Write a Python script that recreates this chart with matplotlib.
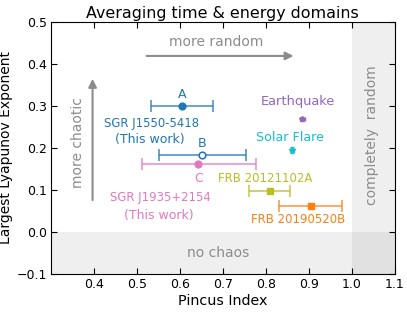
import matplotlib
matplotlib.use("Agg")
import matplotlib.pyplot as plt

plt.rcParams['font.family'] = ['DejaVu Sans']

# SGR J1550-5418 (A, B) and SGR J1935+2154 (C)
sgr_names = ['A', 'B', 'C']
sgr_x = [0.605, 0.651, 0.643]
sgr_y = [0.300, 0.183, 0.161]
sgr_xlo = [0.534, 0.551, 0.511]
sgr_xhi = [0.677, 0.753, 0.777]

# FRBs
frb_names = ['FRB 20121102A', 'FRB 20190520B']
frb_x = [0.809, 0.905]
frb_y = [0.098, 0.062]
frb_xlo = [0.761, 0.830]
frb_xhi = [0.856, 0.978]

# other phenomena
oth_names = ['Earthquake', 'Solar Flare']
oth_x = [0.885, 0.861]
oth_y = [0.269, 0.194]
oth_xerr = [0.005, 0.005]
oth_yerr = [0.005, 0.007]

blue = '#1f77b4'
pink = '#e377c2'
olive = '#bcbd22'
orange = '#ff7f0e'
purple = '#9467bd'
cyan = '#17becf'
gray = '#8c8c8c'

fig, ax = plt.subplots(figsize=(4.07, 3.13), dpi=100)
fig.subplots_adjust(left=0.125, right=0.97, top=0.93, bottom=0.125)

ax.set_xlim(0.3, 1.1)
ax.set_ylim(-0.1, 0.5)

ax.axhspan(-0.1, 0.0, color='0.5', alpha=0.12, lw=0)
ax.axvspan(1.0, 1.1, color='0.5', alpha=0.12, lw=0)

cols = [blue, blue, pink]
for i in range(3):
    xe = [[sgr_x[i] - sgr_xlo[i]], [sgr_xhi[i] - sgr_x[i]]]
    ax.errorbar(sgr_x[i], sgr_y[i], xerr=xe, fmt='none', ecolor=cols[i],
                alpha=0.85, capsize=4, elinewidth=1.1, capthick=1.1)
    face = 'white' if i == 1 else cols[i]
    ax.plot(sgr_x[i], sgr_y[i], 'o', ms=4.8, mfc=face, mec=cols[i], mew=1.1)

fcols = [olive, orange]
for i in range(2):
    xe = [[frb_x[i] - frb_xlo[i]], [frb_xhi[i] - frb_x[i]]]
    ax.errorbar(frb_x[i], frb_y[i], xerr=xe, fmt='none', ecolor=fcols[i],
                alpha=0.85, capsize=4, elinewidth=1.1, capthick=1.1)
    ax.plot(frb_x[i], frb_y[i], 's', ms=4.3, color=fcols[i])

ocols = [purple, cyan]
for i in range(2):
    ax.errorbar(oth_x[i], oth_y[i], xerr=oth_xerr[i], yerr=oth_yerr[i],
                fmt='*', ms=4, color=ocols[i], capsize=1.5, elinewidth=1)

fs = 9
gfs = 10
ax.text(sgr_x[0], 0.326, 'A', color=blue, ha='center', va='center', fontsize=fs)
ax.text(0.533, 0.257, 'SGR J1550-5418', color=blue, ha='center', va='center', fontsize=8.4)
ax.text(0.531, 0.221, '(This work)', color=blue, ha='center', va='center', fontsize=fs)
ax.text(sgr_x[1], 0.21, 'B', color=blue, ha='center', va='center', fontsize=fs)
ax.text(sgr_x[2], 0.126, 'C', color=pink, ha='center', va='center', fontsize=fs)
ax.text(0.555, 0.083, 'SGR J1935+2154', color=pink, ha='center', va='center', fontsize=8.4)
ax.text(0.55, 0.040, '(This work)', color=pink, ha='center', va='center', fontsize=fs)
ax.text(0.874, 0.310, oth_names[0], color=purple, ha='center', va='center', fontsize=9.4)
ax.text(0.856, 0.224, oth_names[1], color=cyan, ha='center', va='center', fontsize=9.1)
ax.text(0.798, 0.126, frb_names[0], color=olive, ha='center', va='center', fontsize=8.5)
ax.text(0.874, 0.029, frb_names[1], color=orange, ha='center', va='center', fontsize=8.5)

ax.annotate('', xy=(0.871, 0.419), xytext=(0.516, 0.419),
            arrowprops=dict(arrowstyle='-|>', color=gray, lw=1.5, mutation_scale=12))
ax.text(0.685, 0.451, 'more random', color=gray, ha='center', va='center', fontsize=gfs)
ax.annotate('', xy=(0.397, 0.371), xytext=(0.397, 0.069),
            arrowprops=dict(arrowstyle='-|>', color=gray, lw=1.5, mutation_scale=12))
ax.text(0.362, 0.213, 'more chaotic', color=gray, ha='center', va='center',
        rotation=90, fontsize=gfs)
ax.text(1.047, 0.231, 'completely  random', color=gray, ha='center', va='center',
        rotation=90, fontsize=gfs)
ax.text(0.69, -0.05, 'no chaos', color=gray, ha='center', va='center', fontsize=gfs)

ax.set_xticks([0.4, 0.5, 0.6, 0.7, 0.8, 0.9, 1.0, 1.1])
ax.set_yticks([-0.1, 0.0, 0.1, 0.2, 0.3, 0.4, 0.5])
ax.tick_params(direction='in', top=True, right=True, labelsize=9, length=4)
ax.tick_params(axis='y', pad=2.5)
ax.tick_params(axis='x', pad=3)
ax.set_xlabel('Pincus Index', fontsize=10.3, labelpad=2)
ax.set_ylabel('Largest Lyapunov Exponent', fontsize=10, labelpad=3)
ax.set_title('Averaging time & energy domains', fontsize=11.4, pad=3)

fig.savefig('out.png', dpi=100)
